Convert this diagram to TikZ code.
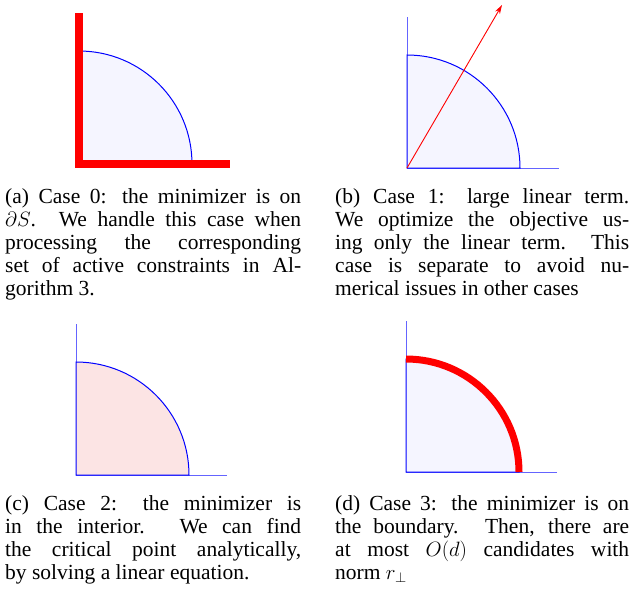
\documentclass[tikz,border=0pt]{standalone}
\usepackage[no-math]{fontspec}
\setmainfont{Liberation Serif}
\usetikzlibrary{arrows.meta}
\definecolor{lav}{RGB}{245,245,255}
\definecolor{pinkfill}{RGB}{252,228,228}
\definecolor{axisblue}{RGB}{100,100,255}
\newcommand\capfont{\fontsize{21.5pt}{23pt}\selectfont}
\newcommand\jline[1]{\makebox[\linewidth][s]{#1}\par}
\newcommand\lline[1]{\makebox[\linewidth][l]{#1}\par}
\tikzset{
  axisline/.style={draw=axisblue, line width=1pt},
  sector/.style={draw=blue, line width=1pt},
  thickred/.style={draw=red, line width=7.5pt},
  caption/.style={anchor=base west, inner sep=0pt},
}
\begin{document}
\begin{tikzpicture}[x=1pt,y=-1pt]
\useasboundingbox (0,0) rectangle (631,600);
% origins
\coordinate (Oa) at (79,164);
\coordinate (Ob) at (407,168);
\coordinate (Oc) at (76,475);
\coordinate (Od) at (406,472);
% axis ends
\coordinate (Ta) at (79,13);   \coordinate (Ra) at (230,164);
\coordinate (Tb) at (407,17);  \coordinate (Rb) at (559,168);
\coordinate (Tc) at (76,324);  \coordinate (Rc) at (227,475);
\coordinate (Td) at (406,321); \coordinate (Rd) at (557,472);
\coordinate (Hb) at (502,5);

% (a)
\fill[lav] (Oa) -- ++(113pt,0pt) arc[start angle=0,end angle=90,radius=113pt] -- cycle;
\draw[sector] (Oa) ++(113pt,0pt) arc[start angle=0,end angle=90,radius=113pt];
\draw[thickred, line join=miter] (Ta) -- (Oa) -- (Ra);

% (b)
\draw[axisline] (Tb) -- (Ob) -- (Rb);
\draw[sector, fill=lav] (Ob) -- ++(113pt,0pt) arc[start angle=0,end angle=90,radius=113pt] -- cycle;
\draw[red, line width=0.9pt, -{Stealth[length=9pt,width=5.5pt]}] (Ob) -- (Hb);

% (c)
\draw[axisline] (Tc) -- (Oc) -- (Rc);
\draw[sector, fill=pinkfill] (Oc) -- ++(113pt,0pt) arc[start angle=0,end angle=90,radius=113pt] -- cycle;

% (d)
\draw[axisline] (Td) -- (Od) -- (Rd);
\draw[sector, fill=lav] (Od) -- ++(113pt,0pt) arc[start angle=0,end angle=90,radius=113pt] -- cycle;
\draw[thickred, line width=7pt] (Od) ++(113pt,0pt) arc[start angle=0,end angle=90,radius=113pt];

% captions
\node[caption] (capa) at (5,203) {\parbox[t]{296pt}{\capfont
\jline{(a) Case 0: the minimizer is on}
\jline{$\partial S$. We handle this case when}
\jline{processing the corresponding}
\jline{set of active constraints in Al-}
\lline{gorithm 3.}}};
\node[caption] (capb) at (335,203) {\parbox[t]{294pt}{\capfont
\jline{(b) Case 1: large linear term.}
\jline{We optimize the objective us-}
\jline{ing only the linear term. This}
\jline{case is separate to avoid nu-}
\lline{merical issues in other cases}}};
\node[caption] (capc) at (5,510) {\parbox[t]{296pt}{\capfont
\jline{(c) Case 2: the minimizer is}
\jline{in the interior. We can find}
\jline{the critical point analytically,}
\lline{by solving a linear equation.}}};
\node[caption] (capd) at (335,510) {\parbox[t]{294pt}{\capfont
\jline{(d) Case 3: the minimizer is on}
\jline{the boundary. Then, there are}
\jline{at most $O(d)$ candidates with}
\lline{norm $r_\perp$}}};
\end{tikzpicture}
\end{document}
